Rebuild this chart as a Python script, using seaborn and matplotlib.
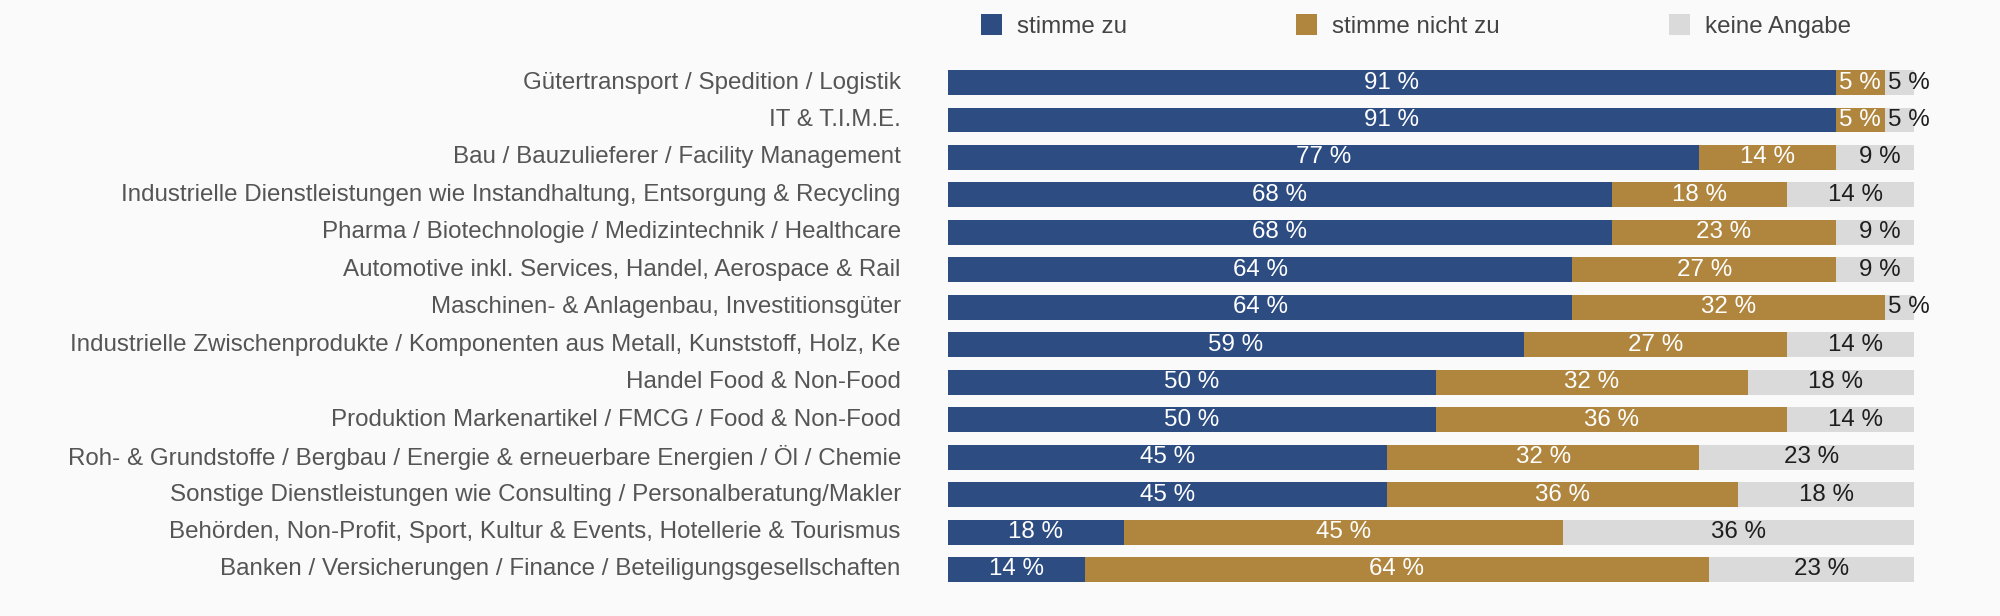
import matplotlib
matplotlib.use("Agg")
import matplotlib.pyplot as plt
from matplotlib.patches import Patch
import seaborn as sns
import numpy as np
import pandas as pd

# data
categories = [
    "Gütertransport / Spedition / Logistik",
    "IT & T.I.M.E.",
    "Bau / Bauzulieferer / Facility Management",
    "Industrielle Dienstleistungen wie Instandhaltung, Entsorgung & Recycling",
    "Pharma / Biotechnologie / Medizintechnik / Healthcare",
    "Automotive inkl. Services, Handel, Aerospace & Rail",
    "Maschinen- & Anlagenbau, Investitionsgüter",
    "Industrielle Zwischenprodukte / Komponenten aus Metall, Kunststoff, Holz, Ke",
    "Handel Food & Non-Food",
    "Produktion Markenartikel / FMCG / Food & Non-Food",
    "Roh- & Grundstoffe / Bergbau / Energie & erneuerbare Energien / Öl / Chemie",
    "Sonstige Dienstleistungen wie Consulting / Personalberatung/Makler",
    "Behörden, Non-Profit, Sport, Kultur & Events, Hotellerie & Tourismus",
    "Banken / Versicherungen / Finance / Beteiligungsgesellschaften",
]
stimme_zu = [91, 91, 77, 68, 68, 64, 64, 59, 50, 50, 45, 45, 18, 14]
stimme_nicht_zu = [5, 5, 14, 18, 23, 27, 32, 27, 32, 36, 32, 36, 45, 64]
keine_angabe = [5, 5, 9, 14, 9, 9, 5, 14, 18, 14, 23, 18, 36, 23]
series_names = ["stimme zu", "stimme nicht zu", "keine Angabe"]

BLUE = "#2C4C82"
GOLD = "#B0853E"
GREY = "#DADADA"

sns.set_style("white")
plt.rcParams["font.family"] = ["Liberation Sans", "DejaVu Sans"]

df = pd.DataFrame({
    "Branche": categories,
    "zu": stimme_zu,
    "nicht": stimme_nicht_zu,
    "keine": keine_angabe,
})
df["cum_zu"] = df["zu"]
df["cum_nicht"] = df["zu"] + df["nicht"]
df["cum_keine"] = df["cum_nicht"] + df["keine"]

fig = plt.figure(figsize=(20, 6.16), dpi=100, facecolor="#FAFAFA")
ax = fig.add_axes([0.474, 0.0451, 0.483, 0.8513])
ax.set_facecolor("none")

# stacked bars drawn back to front as cumulative layers
bar_w = 0.667
for col, color in [("cum_keine", GREY), ("cum_nicht", GOLD), ("cum_zu", BLUE)]:
    sns.barplot(data=df, x=col, y="Branche", color=color, saturation=1,
                width=bar_w, orient="h", errorbar=None, ax=ax, linewidth=0)

# centred value labels
fs = 17.4
for i in range(len(categories)):
    segs = [
        (0, stimme_zu[i], "white"),
        (stimme_zu[i], stimme_nicht_zu[i], "white"),
        (stimme_zu[i] + stimme_nicht_zu[i], keine_angabe[i], "#1E1E1E"),
    ]
    for left, val, tc in segs:
        ax.text(left + val / 2, i, f"{val} %", ha="center", va="center",
                fontsize=fs, color=tc, clip_on=False)

ax.set_xlim(0, 99)
ax.set_ylim(len(categories) - 0.5, -0.5)
ax.set_xlabel("")
ax.set_ylabel("")
ax.set_xticks([])
ax.tick_params(axis="y", length=0, pad=34, labelsize=fs, labelcolor="#555555")
for lbl in ax.get_yticklabels():
    lbl.set_va("center")
sns.despine(ax=ax, left=True, bottom=True)

handles = [Patch(facecolor=c, edgecolor="none") for c in (BLUE, GOLD, GREY)]
leg = ax.legend(handles, series_names, ncol=3, loc="center left",
                bbox_to_anchor=(0.4905, 0.958), bbox_transform=fig.transFigure,
                frameon=False, fontsize=fs, borderpad=0, borderaxespad=0,
                handlelength=0.87, handleheight=1.0, handletextpad=0.62,
                columnspacing=7.0)
for t in leg.get_texts():
    t.set_color("#444444")

fig.savefig("out.png", dpi=100, facecolor=fig.get_facecolor())
